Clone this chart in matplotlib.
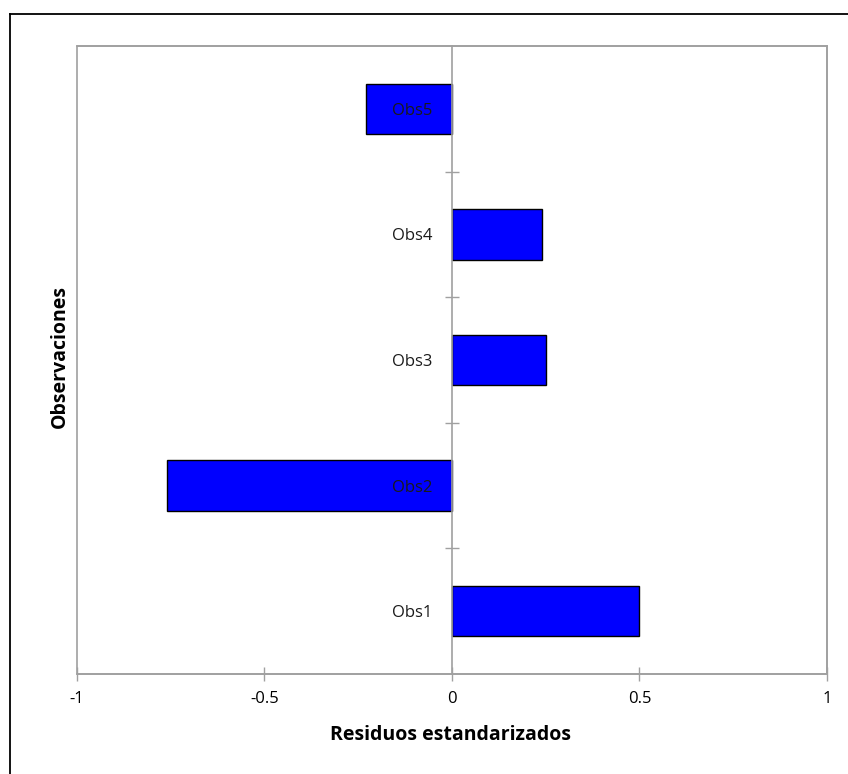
import matplotlib
matplotlib.use("Agg")
import matplotlib.pyplot as plt
from matplotlib.patches import Rectangle
from matplotlib.lines import Line2D

categories = ["Obs1", "Obs2", "Obs3", "Obs4", "Obs5"]
values = [0.50, -0.758, 0.251, 0.241, -0.230]
xticks = [-1, -0.5, 0, 0.5, 1]
xticklabels = ["-1", "-0.5", "0", "0.5", "1"]

plt.rcParams['font.family'] = ['Open Sans', 'DejaVu Sans']

W, H = 848, 774
fig = plt.figure(figsize=(W / 100, H / 100), dpi=100)
ax = fig.add_axes([76.7 / W, 1 - 674 / H, (827 - 76.7) / W, (674 - 46) / H])
ax.set_axisbelow(False)

ypos = list(range(len(categories)))
ax.barh(ypos, values, height=0.4, color="#0000FF", edgecolor="black", linewidth=1.0, zorder=1)

ax.set_xlim(-1, 1)
ax.set_ylim(-0.5, len(categories) - 0.5)

grey = "#A0A0A0"
for s in ["top", "right", "bottom"]:
    ax.spines[s].set_color(grey)
    ax.spines[s].set_linewidth(1.2)
ax.spines["left"].set_position(("data", 0))
ax.spines["left"].set_color(grey)
ax.spines["left"].set_linewidth(1.2)
ax.spines["left"].set_zorder(3)
# left border of plot area
ax.add_patch(Rectangle((0, 0), 1, 1, transform=ax.transAxes, fill=False,
                       edgecolor=grey, linewidth=1.2, zorder=0.5, clip_on=False))

ax.set_xticks(xticks)
ax.set_xticklabels(xticklabels)
ax.tick_params(axis="x", direction="inout", length=10, width=1, color=grey,
               pad=7, labelsize=12, labelcolor="black")

ax.set_yticks(ypos)
ax.set_yticklabels(categories)
ax.tick_params(axis="y", which="major", length=0, pad=14, labelsize=12, labelcolor="#1a1a1a")
ax.set_yticks([0.5, 1.5, 2.5, 3.5], minor=True)
ax.tick_params(axis="y", which="minor", direction="inout", length=10, width=1, color=grey)

fig.text(451 / W, 1 - 735 / H, "Residuos estandarizados", ha="center", va="center",
         fontsize=14, fontweight="bold")
fig.text(60 / W, 1 - 357 / H, "Observaciones", ha="center", va="center",
         rotation=90, fontsize=14, fontweight="bold")

# outer border
fig.add_artist(Line2D([10 / W, 10 / W], [0, 1 - 14 / H], color="black", linewidth=1.3,
                      transform=fig.transFigure))
fig.add_artist(Line2D([10 / W, 1], [1 - 14 / H, 1 - 14 / H], color="black", linewidth=1.3,
                      transform=fig.transFigure))

fig.savefig("out.png", dpi=100)
